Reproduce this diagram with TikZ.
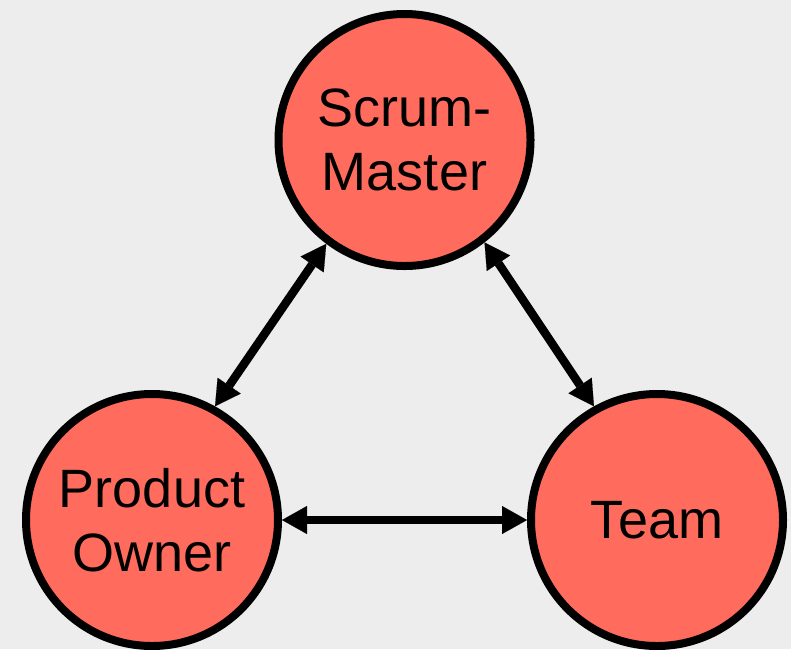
\documentclass[tikz,border=0pt]{standalone}
\usepackage{fontspec}
\setmainfont{Liberation Sans}
\usetikzlibrary{arrows.meta}
\definecolor{bgcol}{HTML}{EDEDED}
\definecolor{rolefill}{HTML}{FF6B5C}
\tikzset{
  role/.style={circle, draw=black, line width=8pt, fill=rolefill,
    minimum size=252pt, inner sep=0pt, align=center,
    font=\fontsize{54}{64}\selectfont},
  link/.style={line width=8.5pt,
    {Triangle[length=25pt,width=28pt,line width=0.1pt]}-{Triangle[length=25pt,width=28pt,line width=0.1pt]}}
}
\begin{document}
\begin{tikzpicture}[x=1pt,y=1pt]
  % canvas
  \fill[bgcol] (0,0) rectangle (791,-649);
  \useasboundingbox (0,0) rectangle (791,-649);
  \clip (0,0) rectangle (791,-649);

  % roles
  \node[role] (sm) at (404.5,-140) {Scrum-\\Master};
  \node[role] (po) at (152,-520) {Product\\Owner};
  \node[role] (team) at (657,-520) {Team};

  % relations
  \draw[link] (sm.233.5) -- (po.61.5);
  \draw[link] (sm.308) -- (team.119);
  \draw[link] (po.0) -- (team.180);
\end{tikzpicture}
\end{document}
